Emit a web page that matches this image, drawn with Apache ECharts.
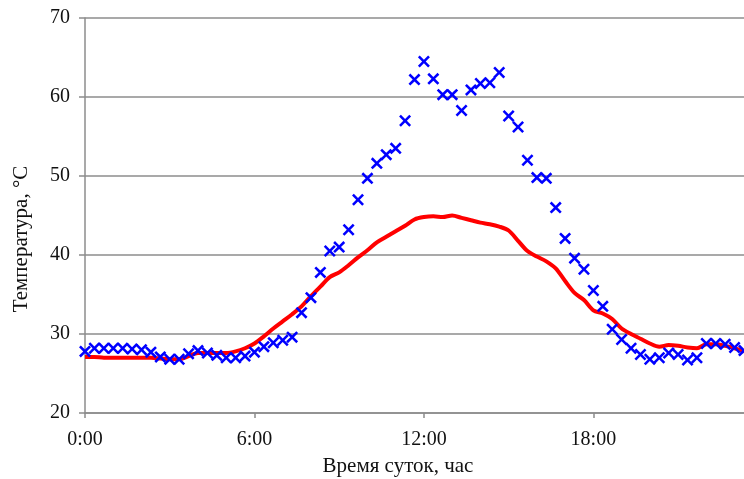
<!DOCTYPE html>
<html>
<head>
<meta charset="utf-8">
<script src="https://cdn.jsdelivr.net/npm/echarts@6/dist/echarts.min.js"></script>
<style>
html,body{margin:0;padding:0;background:#fff;}
#chart{width:744px;height:479px;}
</style>
</head>
<body>
<div id="chart"></div>
<script>
const times = ["0:00","0:20","0:40","1:00","1:20","1:40","2:00","2:20","2:40","3:00","3:20","3:40",
"4:00","4:20","4:40","5:00","5:20","5:40","6:00","6:20","6:40","7:00","7:20","7:40",
"8:00","8:20","8:40","9:00","9:20","9:40","10:00","10:20","10:40","11:00","11:20","11:40",
"12:00","12:20","12:40","13:00","13:20","13:40","14:00","14:20","14:40","15:00","15:20","15:40",
"16:00","16:20","16:40","17:00","17:20","17:40","18:00","18:20","18:40","19:00","19:20","19:40",
"20:00","20:20","20:40","21:00","21:20","21:40","22:00","22:20","22:40","23:00","23:20"];

const measured = [27.8,28.2,28.2,28.2,28.2,28.1,28.0,27.7,27.1,26.8,26.8,27.5,
27.9,27.6,27.3,27.0,27.0,27.2,27.7,28.4,28.9,29.2,29.6,32.7,
34.6,37.8,40.5,41.0,43.2,47.0,49.7,51.6,52.7,53.5,57.0,62.2,
64.5,62.3,60.3,60.3,58.3,60.9,61.7,61.8,63.1,57.6,56.2,52.0,
49.8,49.7,46.0,42.1,39.6,38.2,35.5,33.5,30.6,29.3,28.2,27.4,
26.8,27.0,27.6,27.4,26.7,27.0,28.8,28.8,28.7,28.3,27.9];

const model = [27.1,27.1,27.0,27.0,27.0,27.0,27.0,27.0,26.9,26.8,26.8,27.2,
27.6,27.6,27.6,27.6,27.8,28.2,28.8,29.7,30.7,31.6,32.5,33.5,
34.8,36.0,37.2,37.8,38.7,39.7,40.6,41.6,42.3,43.0,43.7,44.5,
44.8,44.9,44.8,45.0,44.7,44.4,44.1,43.9,43.6,43.1,41.8,40.5,
39.8,39.2,38.3,36.7,35.2,34.3,33.0,32.6,31.9,30.7,30.0,29.4,
28.8,28.4,28.6,28.5,28.3,28.2,28.7,28.7,28.5,28.2,27.8];

const yTicks = {min:20, max:70, interval:10};
const xTitle = "Время суток, час";
const yTitle = "Температура, °C";

const font = "'Liberation Serif','Times New Roman',serif";
const chart = echarts.init(document.getElementById('chart'), null, {renderer:'canvas'});
chart.setOption({
  animation:false,
  backgroundColor:'#fff',
  grid:{left:85, top:18, right:-2, bottom:66, containLabel:false},
  xAxis:{
    type:'category',
    data:times,
    boundaryGap:false,
    axisLine:{lineStyle:{color:'#8c8c8c', width:1.5}},
    axisTick:{show:true, interval:17, length:5, lineStyle:{color:'#8c8c8c', width:1.5}},
    axisLabel:{interval:17, margin:17, color:'#111', fontFamily:font, fontSize:20},
    splitLine:{show:false}
  },
  yAxis:{
    type:'value',
    min:yTicks.min, max:yTicks.max, interval:yTicks.interval,
    axisLine:{show:true, lineStyle:{color:'#8c8c8c', width:1.5}},
    axisTick:{show:true, length:6, lineStyle:{color:'#8c8c8c', width:1.5}},
    axisLabel:{margin:15, color:'#111', fontFamily:font, fontSize:20},
    splitLine:{show:true, lineStyle:{color:'#8c8c8c', width:1.5}}
  },
  graphic:[
    {type:'text', x:398, y:466, style:{text:xTitle, font:'21px '+font, fill:'#111', align:'center', verticalAlign:'middle'}},
    {type:'text', x:21, y:239, rotation:Math.PI/2,
     style:{text:yTitle, font:'21px '+font, fill:'#111', align:'center', verticalAlign:'middle'}}
  ],
  series:[
    {type:'line', data:model, smooth:0.3, showSymbol:false, symbol:'none',
     lineStyle:{color:'#ff0000', width:4}, z:2},
    {type:'scatter', data:measured, symbol:'path://M0,1.5L1.5,0L5,3.5L8.5,0L10,1.5L6.5,5L10,8.5L8.5,10L5,6.5L1.5,10L0,8.5L3.5,5Z',
     symbolSize:12, itemStyle:{color:'#0000ff', opacity:1}, z:3}
  ]
});
</script>
</body>
</html>
